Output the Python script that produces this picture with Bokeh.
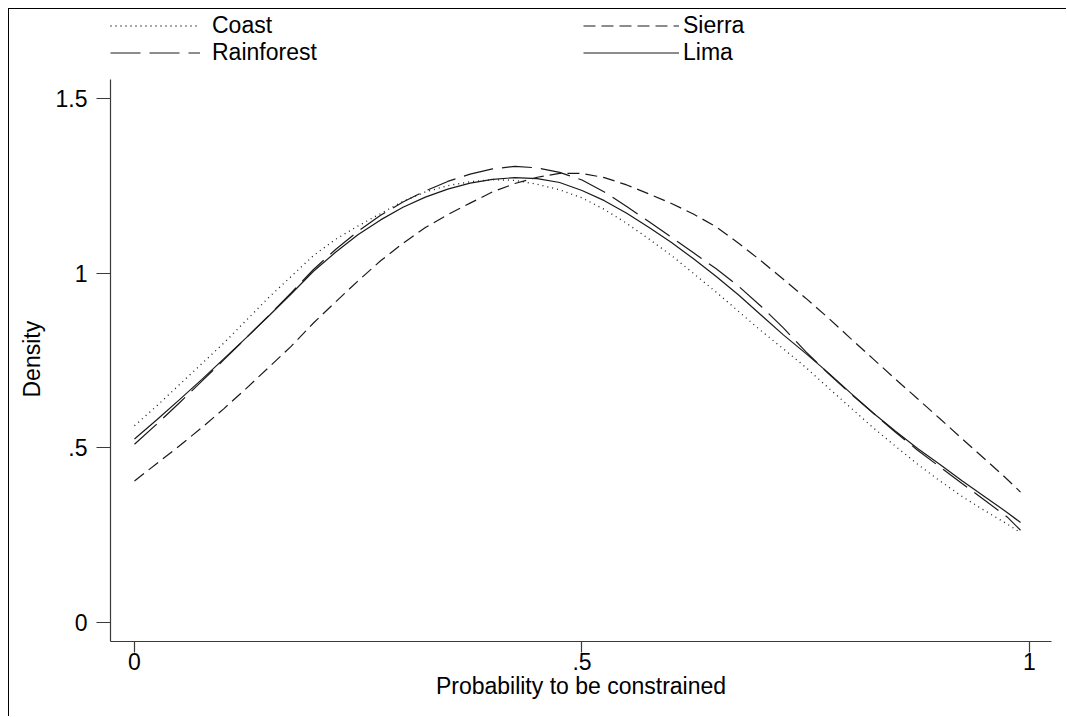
from bokeh.plotting import figure
from bokeh.models import Range1d, FixedTicker, Legend, LegendItem, Title
from bokeh.embed import file_html
from bokeh.resources import INLINE

# ---- data ----
x_vals = [0.0, 0.025, 0.05, 0.075, 0.10, 0.125, 0.15, 0.175, 0.20, 0.225, 0.25, 0.275,
          0.30, 0.325, 0.35, 0.375, 0.40, 0.425, 0.45, 0.475, 0.50, 0.525, 0.55, 0.575,
          0.60, 0.625, 0.65, 0.675, 0.70, 0.725, 0.75, 0.775, 0.80, 0.825, 0.85, 0.875,
          0.90, 0.925, 0.95, 0.975, 0.99]
coast = [0.563, 0.620, 0.680, 0.740, 0.800, 0.865, 0.930, 0.990, 1.050, 1.097, 1.135, 1.170,
         1.205, 1.232, 1.250, 1.261, 1.267, 1.265, 1.254, 1.238, 1.215, 1.182, 1.142, 1.097,
         1.050, 0.998, 0.945, 0.890, 0.835, 0.783, 0.730, 0.672, 0.615, 0.558, 0.505, 0.453,
         0.405, 0.360, 0.320, 0.282, 0.257]
sierra = [0.405, 0.455, 0.505, 0.557, 0.612, 0.670, 0.730, 0.790, 0.857, 0.918, 0.978, 1.035,
          1.085, 1.130, 1.167, 1.200, 1.232, 1.256, 1.274, 1.285, 1.285, 1.273, 1.252, 1.226,
          1.199, 1.168, 1.132, 1.085, 1.035, 0.982, 0.928, 0.872, 0.813, 0.755, 0.697, 0.640,
          0.583, 0.525, 0.468, 0.410, 0.373]
rainforest = [0.510, 0.568, 0.628, 0.690, 0.752, 0.815, 0.878, 0.943, 1.010, 1.068, 1.120, 1.165,
              1.203, 1.235, 1.262, 1.283, 1.298, 1.305, 1.301, 1.288, 1.266, 1.232, 1.190, 1.147,
              1.102, 1.057, 1.012, 0.962, 0.905, 0.843, 0.775, 0.713, 0.655, 0.600, 0.545, 0.493,
              0.445, 0.397, 0.350, 0.302, 0.264]
lima = [0.525, 0.580, 0.637, 0.695, 0.755, 0.815, 0.877, 0.940, 1.005, 1.060, 1.110, 1.152,
        1.188, 1.217, 1.240, 1.257, 1.268, 1.273, 1.270, 1.259, 1.236, 1.207, 1.171, 1.130,
        1.087, 1.040, 0.990, 0.937, 0.880, 0.823, 0.770, 0.715, 0.657, 0.600, 0.548, 0.498,
        0.452, 0.405, 0.360, 0.315, 0.286]

series_names = ["Coast", "Sierra", "Rainforest", "Lima"]
legend_col1 = ["Coast", "Rainforest"]
legend_col2 = ["Sierra", "Lima"]
x_ticks = [0, 0.5, 1]
x_tick_labels = ["0", ".5", "1"]
y_ticks = [0, 0.5, 1, 1.5]
y_tick_labels = ["0", ".5", "1", "1.5"]
y_axis_bounds = (-0.0544, 1.554)
x_title = "Probability to be constrained"
y_title = "Density"

FONT = "Liberation Sans"
FS = "23px"
INK = "#1a1a1a"
AXC = "#3a3a3a"

# frame reaches the top of the canvas so the legend rows (inside the frame) are not clipped;
# the y axis line itself is bounded to the data region as in the reference
p = figure(width=1058, height=708, output_backend="svg", toolbar_location=None,
           x_range=Range1d(-0.0268, 1.0246), y_range=Range1d(-0.0544, 1.754),
           min_border_left=100, min_border_right=16, min_border_top=0, min_border_bottom=76)
p.styles = {"margin-top": "8px", "margin-left": "8px",
            "border-top": "1px solid #000000", "border-left": "1px solid #000000"}
p.outline_line_color = None
p.grid.visible = False
p.background_fill_color = "white"
p.border_fill_color = "white"

styles = {
    "Coast": dict(line_dash="1 4", line_width=1.3),
    "Sierra": dict(line_dash="12 6", line_width=1.2),
    "Rainforest": dict(line_dash="30 9", line_width=1.2),
    "Lima": dict(line_dash="solid", line_width=1.2),
}
data = {"Coast": coast, "Sierra": sierra, "Rainforest": rainforest, "Lima": lima}
renderers = {}
for name in series_names:
    renderers[name] = p.line(x_vals, data[name], line_color=INK, **styles[name])

for ax in (p.xaxis[0], p.yaxis[0]):
    ax.axis_line_color = AXC
    ax.axis_line_width = 1.2
    ax.major_tick_line_color = AXC
    ax.major_tick_line_width = 1.2
    ax.minor_tick_line_color = None
    ax.major_tick_in = 0
    ax.major_label_text_font = FONT
    ax.major_label_text_font_size = FS
    ax.major_label_text_color = "black"
    ax.axis_label_text_font = FONT
    ax.axis_label_text_font_size = FS
    ax.axis_label_text_font_style = "normal"
    ax.axis_label_text_color = "black"

p.xaxis[0].ticker = FixedTicker(ticks=x_ticks)
p.xaxis[0].major_label_overrides = dict(zip(x_ticks, x_tick_labels))
p.xaxis[0].major_tick_out = 11
p.xaxis[0].major_label_standoff = 0
p.xaxis[0].axis_label = x_title
p.xaxis[0].axis_label_standoff = 0

p.yaxis[0].ticker = FixedTicker(ticks=y_ticks)
p.yaxis[0].major_label_overrides = dict(zip(y_ticks, y_tick_labels))
p.yaxis[0].major_tick_out = 14
p.yaxis[0].major_label_standoff = 9
p.yaxis[0].major_label_orientation = "horizontal"
p.yaxis[0].bounds = y_axis_bounds

# y-axis title, centred on the bounded axis (not on the taller frame)
p.add_layout(Title(text=y_title, align="left", offset=244, standoff=15,
                   text_font=FONT, text_font_size=FS, text_font_style="normal",
                   text_color="black"), "left")


def make_legend(names, loc, glyph_w, standoff):
    return Legend(items=[LegendItem(label=n, renderers=[renderers[n]]) for n in names],
                  location=loc, orientation="vertical",
                  glyph_width=glyph_w, glyph_height=25, label_height=25,
                  label_standoff=standoff, spacing=0, padding=0, margin=0,
                  border_line_color=None, background_fill_alpha=0,
                  label_text_font=FONT, label_text_font_size=FS,
                  label_text_color="black")

# two columns of the key, each with two rows
p.add_layout(make_legend(legend_col1, (0, 575), 90, 12))
p.add_layout(make_legend(legend_col2, (473, 575), 96, 4))

open("out.html", "w").write(file_html(p, INLINE))
